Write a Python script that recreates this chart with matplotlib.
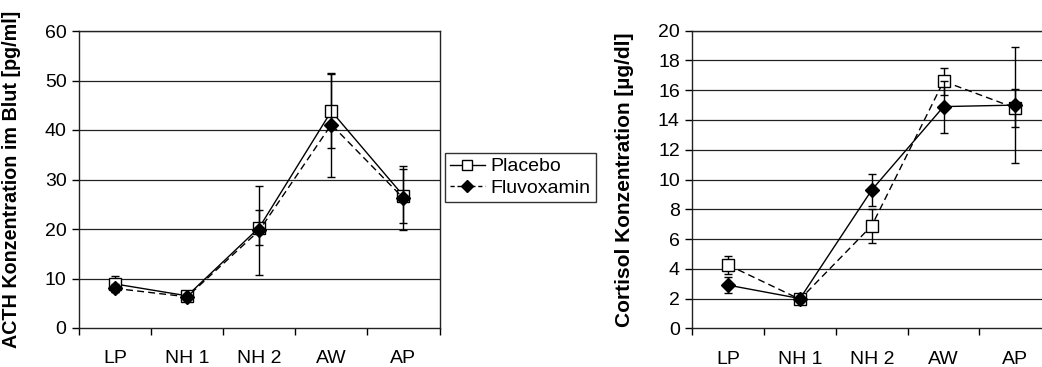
import matplotlib
matplotlib.use("Agg")
import matplotlib.pyplot as plt
from matplotlib.lines import Line2D

plt.rcParams['font.family'] = ['Liberation Sans', 'DejaVu Sans']

categories = ["LP", "NH 1", "NH 2", "AW", "AP"]

acth_placebo = [8.9, 6.5, 20.3, 43.8, 26.7]
acth_placebo_err = [1.7, 0.5, 3.5, 7.5, 5.5]
acth_fluvox = [8.0, 6.3, 19.7, 41.1, 26.2]
acth_fluvox_err = [0.8, 0.5, 9.0, 10.5, 6.5]

cort_placebo = [4.25, 1.95, 6.9, 16.6, 14.8]
cort_placebo_err = [0.6, 0.2, 1.15, 0.9, 1.3]
cort_fluvox = [2.9, 2.0, 9.3, 14.9, 15.0]
cort_fluvox_err = [0.55, 0.2, 1.1, 1.75, 3.9]

W, H = 1042, 367
fig = plt.figure(figsize=(W/100, H/100), dpi=100)

def fx(px): return px / W
def fy(py): return 1 - py / H

ax1 = fig.add_axes([fx(79), fy(328), (439.5-79)/W, (328-31)/H])
ax2 = fig.add_axes([fx(692.3), fy(328.3), 359/W, (328.3-30.7)/H])

x = list(range(len(categories)))
FS = 14

def draw(ax, p, pe, f, fe, p_ls, f_ls, ymax, ystep, ylabel, lfs):
    for yv in range(ystep, ymax + 1, ystep):
        ax.axhline(yv, color='#222222', lw=0.9, zorder=0)
    ax.errorbar(x, p, yerr=pe, fmt='s', ls=p_ls, color='black', lw=1.0,
                mfc='white', mec='black', ms=8, mew=1.0, elinewidth=1.0,
                capsize=3, capthick=1.0, zorder=4, dashes=(5, 3) if p_ls == '--' else (None, None))
    ax.errorbar(x, f, yerr=fe, fmt='D', ls=f_ls, color='black', lw=1.0,
                mfc='black', mec='black', ms=7, elinewidth=1.0,
                capsize=3, capthick=1.0, zorder=5, dashes=(5, 3) if f_ls == '--' else (None, None))
    ax.set_xlim(-0.5, len(categories) - 0.5)
    ax.set_ylim(0, ymax)
    ax.set_yticks(range(0, ymax + 1, ystep))
    ax.set_xticks([i + 0.5 for i in range(-1, len(categories))])
    ax.set_xticklabels([])
    ax.set_xticks(x, minor=True)
    ax.set_xticklabels(categories, minor=True)
    ax.tick_params(axis='x', which='minor', length=0, pad=16, labelsize=FS)
    ax.tick_params(axis='x', which='major', length=5, direction='out', width=1)
    ax.tick_params(axis='y', length=5, direction='out', width=1, labelsize=FS, pad=4)
    ax.set_ylabel(ylabel, fontsize=lfs, fontweight='bold')
    for s in ax.spines.values():
        s.set_color('#222222')
        s.set_linewidth(1.0)

draw(ax1, acth_placebo, acth_placebo_err, acth_fluvox, acth_fluvox_err,
     '-', '--', 60, 10, "ACTH Konzentration im Blut [pg/ml]", 14.2)
draw(ax2, cort_placebo, cort_placebo_err, cort_fluvox, cort_fluvox_err,
     '--', '-', 20, 2, "Cortisol Konzentration [µg/dl]", 15)
ax2.spines['right'].set_visible(False)

ax1.yaxis.set_label_coords((21 - 79) / 360.5, 0.5)
ax2.yaxis.set_label_coords((634 - 692.3) / 359, 0.5)

handles = [
    Line2D([], [], color='black', lw=1.0, marker='s', mfc='white', mec='black', ms=7),
    Line2D([], [], color='black', lw=1.0, ls='--', dashes=(3, 2), marker='D', mfc='black', ms=6),
]
leg = fig.legend(handles, ["Placebo", "Fluvoxamin"], loc='upper left',
                 bbox_to_anchor=(fx(445), fy(153)), fontsize=14,
                 frameon=True, fancybox=False, edgecolor='black',
                 handlelength=1.8, handletextpad=0.3, borderpad=0.25,
                 labelspacing=0.2, borderaxespad=0)
leg.get_frame().set_linewidth(1.0)

fig.savefig("out.png", dpi=100)
